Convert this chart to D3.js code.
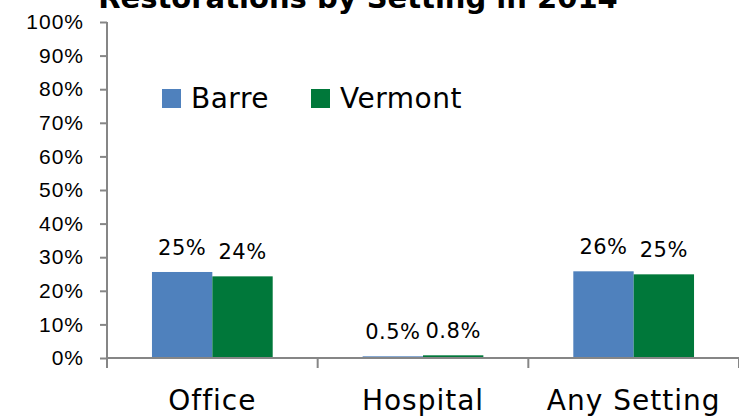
<!DOCTYPE html>
<html>
<head>
<meta charset="utf-8">
<script src="https://cdn.jsdelivr.net/npm/d3@7"></script>
<style>
  body { margin: 0; background: #fff; }
  svg { display: block; font-family: "DejaVu Sans", sans-serif; }
</style>
</head>
<body>
<div id="chart"></div>
<script>
// data
var categories = ["Office", "Hospital", "Any Setting"];
var seriesNames = ["Barre", "Vermont"];
var barreValues = [25.6, 0.5, 25.8];
var vermontValues = [24.3, 0.8, 24.9];
var barreLabels = ["25%", "0.5%", "26%"];
var vermontLabels = ["24%", "0.8%", "25%"];
var yTicks = [0, 10, 20, 30, 40, 50, 60, 70, 80, 90, 100];
var colors = ["#4F81BD", "#00783A"];

var width = 739, height = 417;
var margin = {left: 107, right: 0, top: 22, bottom: 59};

var svg = d3.select("#chart")
    .append("svg")
    .attr("width", width)
    .attr("height", height);

var x = d3.scaleBand()
    .domain(categories)
    .range([margin.left, width - margin.right])
    .paddingInner(0)
    .paddingOuter(0);

var x1 = d3.scaleBand()
    .domain(seriesNames)
    .range([0, x.bandwidth()])
    .paddingOuter(0.745)
    .paddingInner(0);

var y = d3.scaleLinear()
    .domain([0, 100])
    .range([height - margin.bottom, margin.top]);

// title, cut off at the top like the original
svg.append("text")
    .attr("x", 358)
    .attr("y", 8)
    .attr("text-anchor", "middle")
    .style("font-weight", "bold")
    .style("font-size", "29px")
    .text("Restorations by Setting in 2014");

// y axis
var yAxis = svg.append("g")
    .attr("transform", "translate(" + margin.left + ",0)")
    .call(d3.axisLeft(y).tickValues(yTicks).tickSize(7).tickPadding(16)
        .tickFormat(function(d) { return d + "%"; }));
yAxis.selectAll("path, line").attr("stroke", "#868686").attr("stroke-width", 2);
yAxis.select(".domain").attr("d", "M0," + y(100) + "V" + y(0));
yAxis.selectAll("text")
    .style("font-size", "21px")
    .style("letter-spacing", "1px")
    .attr("fill", "#000")
    .attr("font-family", null);

// bars
var rows = categories.map(function(c, i) {
    return [
        {cat: c, name: seriesNames[0], value: barreValues[i], label: barreLabels[i], color: colors[0]},
        {cat: c, name: seriesNames[1], value: vermontValues[i], label: vermontLabels[i], color: colors[1]}
    ];
});

var groups = svg.selectAll("g.group")
    .data(rows)
    .enter().append("g")
    .attr("class", "group")
    .attr("transform", function(d, i) { return "translate(" + x(categories[i]) + ",0)"; });

groups.selectAll("rect")
    .data(function(d) { return d; })
    .enter().append("rect")
    .attr("x", function(d) { return x1(d.name); })
    .attr("width", x1.bandwidth())
    .attr("y", function(d) { return y(d.value); })
    .attr("height", function(d) { return y(0) - y(d.value); })
    .attr("fill", function(d) { return d.color; });

groups.selectAll("text.lbl")
    .data(function(d) { return d; })
    .enter().append("text")
    .attr("class", "lbl")
    .attr("x", function(d) { return x1(d.name) + x1.bandwidth() / 2; })
    .attr("y", function(d) { return y(d.value) - 17; })
    .attr("text-anchor", "middle")
    .style("font-size", "21px")
    .style("letter-spacing", "0.5px")
    .text(function(d) { return d.label; });

// x axis
var xAxis = svg.append("g")
    .attr("transform", "translate(0," + y(0) + ")");
xAxis.append("line")
    .attr("x1", margin.left).attr("x2", width)
    .attr("stroke", "#868686").attr("stroke-width", 2);
var bounds = categories.map(function(c) { return x(c); }).concat([x(categories[2]) + x.bandwidth()]);
xAxis.selectAll("line.tick")
    .data(bounds)
    .enter().append("line")
    .attr("class", "tick")
    .attr("x1", function(d) { return d; }).attr("x2", function(d) { return d; })
    .attr("y1", 0).attr("y2", 10)
    .attr("stroke", "#868686").attr("stroke-width", 2);
xAxis.selectAll("text")
    .data(categories)
    .enter().append("text")
    .attr("x", function(d) { return x(d) + x.bandwidth() / 2; })
    .attr("y", 52)
    .attr("text-anchor", "middle")
    .style("font-size", "28px")
    .style("letter-spacing", "1px")
    .text(function(d) { return d; });

// legend
var legend = svg.append("g");
var legendX = [162, 311];
seriesNames.forEach(function(name, i) {
    legend.append("rect")
        .attr("x", legendX[i]).attr("y", 89)
        .attr("width", 19).attr("height", 19)
        .attr("fill", colors[i]);
    legend.append("text")
        .attr("x", legendX[i] + 29).attr("y", 108)
        .style("font-size", "28px")
        .style("letter-spacing", "0.5px")
        .text(name);
});
</script>
</body>
</html>
